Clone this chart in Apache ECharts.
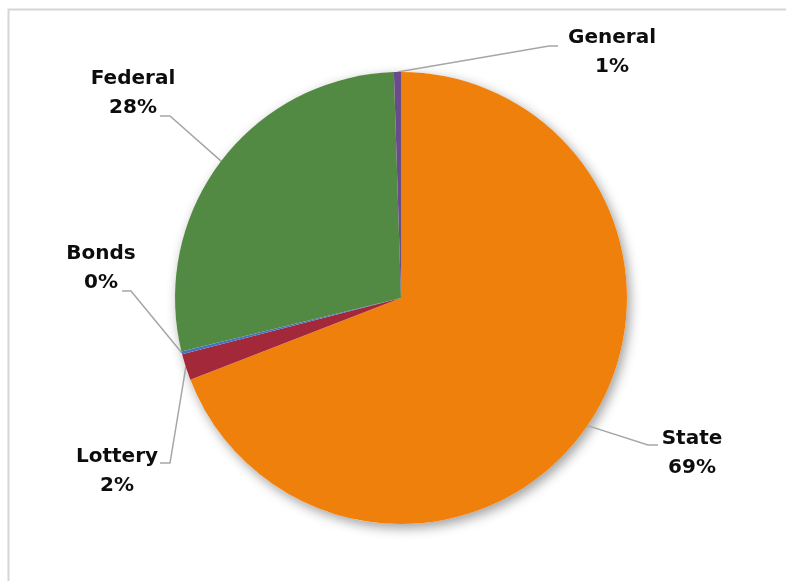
<!DOCTYPE html>
<html>
<head>
<meta charset="utf-8">
<script src="https://cdn.jsdelivr.net/npm/echarts@6/dist/echarts.min.js"></script>
<style>
html,body{margin:0;padding:0;background:#fff;}
#chart{width:786px;height:581px;}
</style>
</head>
<body>
<div id="chart"></div>
<script>
const categories = ['State', 'Lottery', 'Bonds', 'Federal', 'General'];
const values = [69.1, 1.9, 0.2, 28.3, 0.5];
const colors = ['#F0800C', '#A3283A', '#4472C4', '#538A43', '#6A4C8A'];

// label layout only: text centre, leader-line end and elbow
const labelLayoutCfg = {
  State:   {pos: [692, 453], end: [658, 445], elbow: [648, 445]},
  Lottery: {pos: [117, 471], end: [160, 463], elbow: [170, 463]},
  Bonds:   {pos: [101, 268], end: [122, 291], elbow: [131, 291]},
  Federal: {pos: [133, 93],  end: [160, 116], elbow: [170, 116]},
  General: {pos: [612, 52],  end: [558, 46],  elbow: [549, 46]}
};

const CX = 401, CY = 298, R = 226;

const chart = echarts.init(document.getElementById('chart'), null, {renderer: 'canvas'});
chart.setOption({
  animation: false,
  backgroundColor: '#fff',
  graphic: [{
    type: 'polyline',
    shape: {points: [[8.5, 590], [8.5, 9.5], [800, 9.5]]},
    style: {stroke: '#d6d6d6', lineWidth: 2, fill: null},
    z: -1
  }],
  series: [{
    // backdrop disc carrying the soft drop shadow
    type: 'pie',
    silent: true,
    center: [CX, CY],
    radius: R,
    z: 1,
    label: {show: false},
    labelLine: {show: false},
    data: [{value: 1, name: '', itemStyle: {color: '#ffffff'}}],
    itemStyle: {
      borderWidth: 0,
      shadowBlur: 12,
      shadowColor: 'rgba(0,0,0,0.38)',
      shadowOffsetX: 3,
      shadowOffsetY: 4
    },
    emphasis: {disabled: true},
    tooltip: {show: false}
  }, {
    type: 'pie',
    center: [CX, CY],
    radius: R,
    z: 2,
    startAngle: 90,
    clockwise: true,
    avoidLabelOverlap: false,
    data: categories.map((c, i) => ({name: c, value: values[i], itemStyle: {color: colors[i]}})),
    itemStyle: {borderWidth: 0},
    label: {
      show: true,
      position: 'outside',
      formatter: p => p.name + '\n' + Math.round(p.percent) + '%',
      fontFamily: 'DejaVu Sans',
      fontWeight: 'bold',
      fontSize: 20,
      lineHeight: 29,
      color: '#0d0d0d',
      align: 'center'
    },
    labelLine: {
      show: true,
      length: 20,
      length2: 10,
      lineStyle: {color: '#a6a6a6', width: 1.5}
    },
    labelLayout: function (params) {
      const name = categories[params.dataIndex];
      const cfg = labelLayoutCfg[name];
      const pts = params.labelLinePoints;
      const start = pts && pts[0] ? pts[0] : [CX, CY];
      return {
        x: cfg.pos[0], y: cfg.pos[1], align: 'center', verticalAlign: 'middle',
        labelLinePoints: [start, cfg.elbow, cfg.end]
      };
    },
    emphasis: {disabled: true}
  }]
});
</script>
</body>
</html>
